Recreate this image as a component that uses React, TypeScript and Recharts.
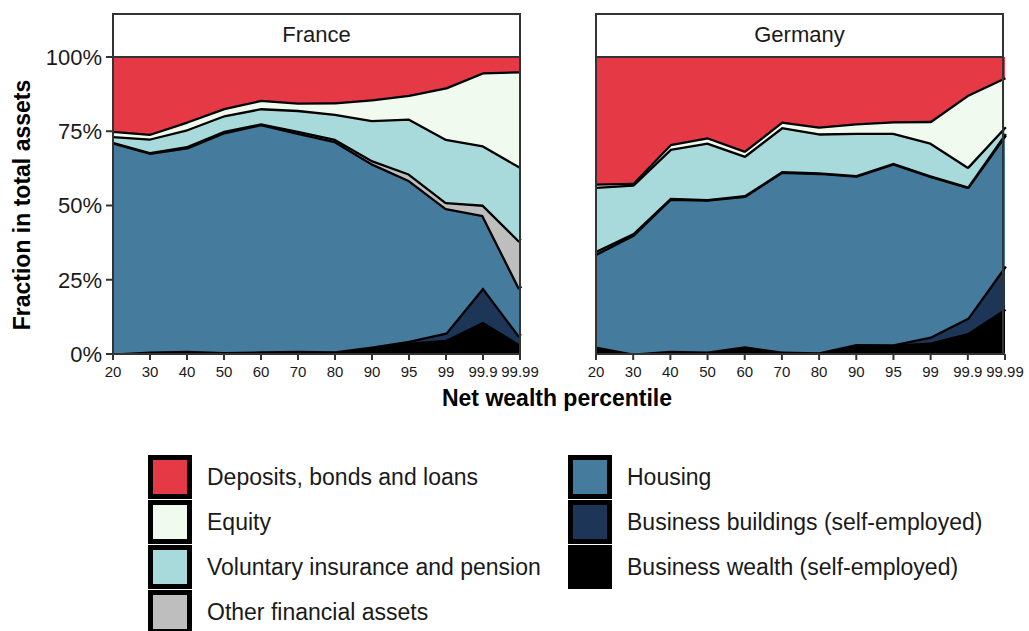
import React from 'react';
import { AreaChart, Area, XAxis, YAxis } from 'recharts';

const percentiles = ['20', '30', '40', '50', '60', '70', '80', '90', '95', '99', '99.9', '99.99'];

// France, share of each asset class (%), bottom of the stack first
const frBusinessWealth = [0.2, 0.8, 1.1, 0.7, 0.9, 1.1, 0.9, 2.3, 3.9, 4.8, 10.9, 3.2];
const frBusinessBuildings = [0, 0, 0, 0, 0, 0, 0, 0.2, 0.6, 2.4, 11.6, 2.7];
const frHousing = [71.1, 67.0, 68.5, 74.0, 76.5, 73.4, 70.8, 61.7, 54.1, 42.0, 24.3, 16.1];
const frOther = [0.2, 0.2, 0.4, 0.5, 0.3, 0.7, 0.8, 1.1, 2.2, 2.0, 3.5, 16.0];
const frVoluntary = [1.9, 4.6, 5.7, 5.2, 5.1, 7.0, 8.4, 13.5, 18.5, 21.3, 20.0, 25.1];
const frEquity = [1.8, 1.6, 2.6, 2.4, 2.8, 2.5, 3.9, 7.0, 8.0, 17.3, 24.6, 32.1];
const frDeposits = [24.8, 25.8, 21.7, 17.2, 14.4, 15.3, 15.2, 14.2, 12.7, 10.2, 5.1, 4.8];

// Germany
const deBusinessWealth = [2.5, 0.2, 1.1, 0.8, 2.6, 0.8, 0.6, 3.4, 3.2, 3.9, 7.1, 15.2];
const deBusinessBuildings = [0, 0, 0, 0, 0, 0, 0, 0, 0.1, 2.0, 5.1, 14.5];
const deHousing = [31.3, 40.0, 51.2, 51.2, 50.7, 60.6, 60.4, 56.7, 60.9, 54.1, 44.1, 44.1];
const deOther = [1.0, 0.5, 0.3, 0.2, 0.2, 0.2, 0.2, 0.2, 0.2, 0.2, 0.2, 0.5];
const deVoluntary = [21.5, 16.4, 16.5, 19.0, 13.3, 14.8, 13.1, 14.2, 10.1, 11.0, 6.6, 2.3];
const deEquity = [1.1, 0.6, 1.6, 1.8, 1.7, 1.9, 2.3, 3.2, 3.9, 7.3, 24.2, 16.6];
const deDeposits = [42.6, 42.3, 29.3, 27.0, 31.5, 21.7, 23.4, 22.3, 21.6, 21.5, 12.7, 6.8];

const yTicks = [0, 25, 50, 75, 100];

const SERIES = [
  { key: 'bw', name: 'Business wealth (self-employed)', color: '#000000' },
  { key: 'bb', name: 'Business buildings (self-employed)', color: '#1D3557' },
  { key: 'housing', name: 'Housing', color: '#457B9D' },
  { key: 'other', name: 'Other financial assets', color: '#BEBEBE' },
  { key: 'vol', name: 'Voluntary insurance and pension', color: '#A8DADC' },
  { key: 'equity', name: 'Equity', color: '#F1FAEE' },
  { key: 'dep', name: 'Deposits, bonds and loans', color: '#E63946' },
];

const buildRows = (bw, bb, housing, other, vol, equity, dep) =>
  percentiles.map((p, i) => ({
    p,
    bw: bw[i],
    bb: bb[i],
    housing: housing[i],
    other: other[i],
    vol: vol[i],
    equity: equity[i],
    dep: dep[i],
  }));

const franceData = buildRows(frBusinessWealth, frBusinessBuildings, frHousing, frOther, frVoluntary, frEquity, frDeposits);
const germanyData = buildRows(deBusinessWealth, deBusinessBuildings, deHousing, deOther, deVoluntary, deEquity, deDeposits);

const FONT = '"Liberation Sans", Arial, Helvetica, sans-serif';
const INK = '#1a1a1a';
const FRAME = '#333333';

// showY: France carries the % axis; Germany only gets the axis line
// strokes are drawn wide because the next band's fill hides the upper half
const Panel = ({ data, showY }: { data: any[]; showY: boolean }) => (
  <AreaChart
    width={showY ? 545 : 460}
    height={400}
    data={data}
    margin={{ top: 57, right: 25, left: showY ? 0 : 26, bottom: 16 }}
  >
    <XAxis
      dataKey="p"
      interval={0}
      height={30}
      tick={{ fontSize: 15, fill: INK, fontFamily: FONT }}
      tickSize={6}
      tickMargin={6}
      tickLine={{ stroke: FRAME, strokeWidth: 2 }}
      axisLine={{ stroke: FRAME, strokeWidth: 2 }}
    />
    <YAxis
      type="number"
      domain={[0, 100]}
      ticks={yTicks}
      allowDataOverflow
      width={showY ? 113 : 0}
      tick={showY ? { fontSize: 22, fill: INK, fontFamily: FONT } : false}
      tickFormatter={(v) => `${v}%`}
      tickSize={7}
      tickMargin={4}
      tickLine={showY ? { stroke: FRAME, strokeWidth: 2 } : false}
      axisLine={{ stroke: FRAME, strokeWidth: 2 }}
    />
    {SERIES.map((s) => (
      <Area
        key={s.key}
        type="linear"
        dataKey={s.key}
        name={s.name}
        stackId="a"
        stroke={s.key === 'dep' ? 'none' : '#000'}
        strokeWidth={4.6}
        strokeLinejoin="round"
        fill={s.color}
        fillOpacity={1}
        dot={false}
        activeDot={false}
        isAnimationActive={false}
      />
    ))}
  </AreaChart>
);

const Frame = ({ left, width, title }: { left: number; width: number; title: string }) => (
  <>
    <div
      style={{
        position: 'absolute',
        left,
        top: 13,
        width,
        height: 342,
        border: `2px solid ${FRAME}`,
        boxSizing: 'border-box',
        pointerEvents: 'none',
      }}
    />
    <div style={{ position: 'absolute', left, top: 56, width, height: 2, background: FRAME }} />
    <div
      style={{
        position: 'absolute',
        left,
        top: 13,
        width,
        height: 44,
        lineHeight: '44px',
        textAlign: 'center',
        fontSize: 22,
        color: INK,
      }}
    >
      {title}
    </div>
  </>
);

const legendLeft = ['dep', 'equity', 'vol', 'other'];
const legendRight = ['housing', 'bb', 'bw'];

const LegendColumn = ({ keys, left }: { keys: string[]; left: number }) => (
  <>
    {keys.map((k, i) => {
      const s = SERIES.find((x) => x.key === k)!;
      return (
        <React.Fragment key={k}>
          <div
            style={{
              position: 'absolute',
              left,
              top: 455 + i * 45,
              width: 44,
              height: 44,
              boxSizing: 'border-box',
              border: '5px solid #000',
              background: s.color,
            }}
          />
          <div
            style={{
              position: 'absolute',
              left: left + 59,
              top: 455 + i * 45,
              height: 44,
              lineHeight: '44px',
              fontSize: 23,
              color: INK,
              whiteSpace: 'nowrap',
            }}
          >
            {s.name}
          </div>
        </React.Fragment>
      );
    })}
  </>
);

export default function App() {
  return (
    <div
      style={{
        position: 'absolute',
        left: 0,
        top: 0,
        width: 1029,
        height: 631,
        overflow: 'hidden',
        background: '#fff',
        fontFamily: FONT,
      }}
    >
      <div style={{ position: 'absolute', left: 0, top: 0 }}>
        <Panel data={franceData} showY />
      </div>
      <div style={{ position: 'absolute', left: 570, top: 0 }}>
        <Panel data={germanyData} showY={false} />
      </div>
      <Frame left={112} width={409} title="France" />
      <Frame left={595} width={409} title="Germany" />

      <div
        style={{
          position: 'absolute',
          left: 22,
          top: 205,
          transform: 'translate(-50%, -50%) rotate(-90deg)',
          fontSize: 23,
          fontWeight: 'bold',
          color: '#000',
          whiteSpace: 'nowrap',
        }}
      >
        Fraction in total assets
      </div>
      <div
        style={{
          position: 'absolute',
          left: 557,
          top: 398,
          transform: 'translate(-50%, -50%)',
          fontSize: 23,
          fontWeight: 'bold',
          color: '#000',
          whiteSpace: 'nowrap',
        }}
      >
        Net wealth percentile
      </div>

      <LegendColumn keys={legendLeft} left={148} />
      <LegendColumn keys={legendRight} left={568} />
    </div>
  );
}
